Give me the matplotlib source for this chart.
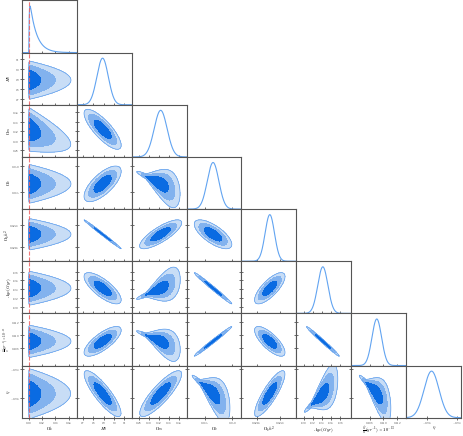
import numpy as np
import matplotlib
matplotlib.use("Agg")
import matplotlib.pyplot as plt

plt.rcParams['font.family'] = 'serif'
plt.rcParams['mathtext.fontset'] = 'cm'

# parameter labels
labels = [r"$\Omega_k$", r"$H_0$", r"$\Omega_m$", r"$\Omega_b$", r"$\Omega_b h^2$",
          r"$Age(Gyr)$", r"$\frac{\dot{G}}{G}(yr^{-1})\times10^{-13}$", r"$\eta$"]

# posterior summaries (Omega_k handled separately)
means = [0.0, 68.9, 0.324, 0.0465, 0.02205, 13.42, 0.10904, -0.9567]
sigmas = [0.0, 0.55, 0.013, 0.00105, 0.00016, 0.11, 0.0007, 0.0049]
omk_scale = 0.0100       # tail length of the Omega_k posterior
omk_rise = 0.0007
omk_slope = [0, 0.0, -0.5, 0.0, 0.0, 0.0, 0.0, 0.0]   # drift of each parameter along Omega_k

limits = [(-0.0105, 0.072), (66.4, 71.7), (0.2656, 0.376), (0.04167, 0.05167),
          (0.02108, 0.02296), (12.844, 14.04), (0.10533, 0.11333), (-0.9733, -0.9373)]

ticks = [[0.0, 0.02, 0.04, 0.06], [67, 68, 69, 70, 71], [0.28, 0.30, 0.32, 0.34, 0.36],
         [0.045, 0.050], [0.0216, 0.0224], [13.0, 13.2, 13.4, 13.6, 13.8],
         [0.108, 0.110, 0.112], [-0.96, -0.94]]
tick_text = [["0.00", "0.02", "0.04", "0.06"], ["67", "68", "69", "70", "71"],
             ["0.28", "0.30", "0.32", "0.34", "0.36"], ["0.045", "0.050"],
             ["0.0216", "0.0224"], ["13.0", "13.2", "13.4", "13.6", "13.8"],
             ["0.108", "0.110", "0.112"], ["-0.96", "-0.94"]]

# correlations between parameters 1..7 (row > col), and fan (wedge) strength
corr = {
    (2, 1): -0.80,
    (3, 1): 0.70, (3, 2): -0.60,
    (4, 1): -0.995, (4, 2): 0.80, (4, 3): -0.70,
    (5, 1): -0.75, (5, 2): 0.60, (5, 3): -0.99, (5, 4): 0.75,
    (6, 1): 0.75, (6, 2): -0.60, (6, 3): 0.99, (6, 4): -0.75, (6, 5): -0.99,
    (7, 1): -0.85, (7, 2): 0.85, (7, 3): -0.70, (7, 4): 0.85, (7, 5): 0.70, (7, 6): -0.70,
}
fan = {(3, 2): 0.35, (5, 2): 0.35, (6, 2): 0.35, (7, 3): 0.35, (7, 5): 0.35, (7, 6): 0.35}

mass_levels = [0.68, 0.95, 0.995]
fill_colors = ["#c8ddf6", "#82b2ee", "#0a6be2"]
edge_color = "#5c9ded"
line_color = "#62a4f1"
n = len(labels)


def omk_pdf(x):
    p = np.exp(-x / omk_scale) * (1 - np.exp(-np.clip(x, 0, None) / omk_rise))
    return np.where(x >= 0, p, 0.0)


def thresholds(p):
    flat = np.sort(p.ravel())[::-1]
    cum = np.cumsum(flat) / flat.sum()
    return [flat[np.searchsorted(cum, m)] for m in mass_levels]


def density(i, j, X, Y):
    if j == 0:
        mu = means[i] + omk_slope[i] * X
        return omk_pdf(X) * np.exp(-0.5 * ((Y - mu) / sigmas[i]) ** 2)
    zx = (X - means[j]) / sigmas[j]
    zy = (Y - means[i]) / sigmas[i]
    rho = corr[(i, j)]
    k = fan.get((i, j), 0.0)
    csd = np.sqrt(1 - rho ** 2) * np.clip(1 + k * zx, 0.2, None)
    return np.exp(-0.5 * zx ** 2) * np.exp(-0.5 * ((zy - rho * zx) / csd) ** 2) / csd


fig, axes = plt.subplots(n, n, figsize=(4.63, 4.36), dpi=100)
fig.subplots_adjust(left=0.047, right=0.996, bottom=0.042, top=0.999, wspace=0, hspace=0)

for i in range(n):
    for j in range(n):
        ax = axes[i, j]
        if j > i:
            ax.axis('off')
            continue
        ax.set_xlim(limits[j])
        if i == j:
            x = np.linspace(*limits[j], 400)
            if j == 0:
                y = omk_pdf(x)
            else:
                y = np.exp(-0.5 * ((x - means[j]) / sigmas[j]) ** 2)
            ax.plot(x, y, color=line_color, lw=0.8)
            ax.set_ylim(0, y.max() * 1.12)
            ax.set_yticks([])
        else:
            gx = np.linspace(*limits[j], 260)
            gy = np.linspace(*limits[i], 260)
            X, Y = np.meshgrid(gx, gy)
            P = density(i, j, X, Y)
            t = thresholds(P)
            ax.contourf(X, Y, P, levels=[t[2], t[1], t[0], P.max() * 1.01], colors=fill_colors)
            ax.contour(X, Y, P, levels=[t[2]], colors=edge_color, linewidths=0.5)
            ax.set_ylim(limits[i])
            ax.set_yticks(ticks[i])
            if j == 0:
                ax.set_yticklabels([r"$%s$" % s for s in tick_text[i]], fontsize=2.2)
                if i == 6:
                    # the fraction label is taller, keep it clear of the tick labels
                    ax.set_ylabel(labels[i], fontsize=2.5)
                    ax.yaxis.set_label_coords(-0.185, 0.5)
                else:
                    ax.set_ylabel(labels[i], fontsize=3.3)
                    ax.yaxis.set_label_coords(-0.155, 0.5)
            else:
                ax.set_yticklabels([])
        if j == 0:
            ax.axvline(0.0, color="#f06060", ls="--", lw=0.8, alpha=0.85)
        ax.set_xticks(ticks[j])
        if i == n - 1:
            ax.set_xticklabels([r"$%s$" % s for s in tick_text[j]], fontsize=2.2)
            ax.set_xlabel(labels[j], fontsize=3.3)
            ax.xaxis.set_label_coords(0.5, -0.14)
        else:
            ax.set_xticklabels([])
        ax.tick_params(direction='inout', length=2.2, width=0.5, pad=0.5, colors="#333333")
        for s in ax.spines.values():
            s.set_color("#555555")
            s.set_linewidth(0.8)

plt.savefig("out.png", dpi=100)
